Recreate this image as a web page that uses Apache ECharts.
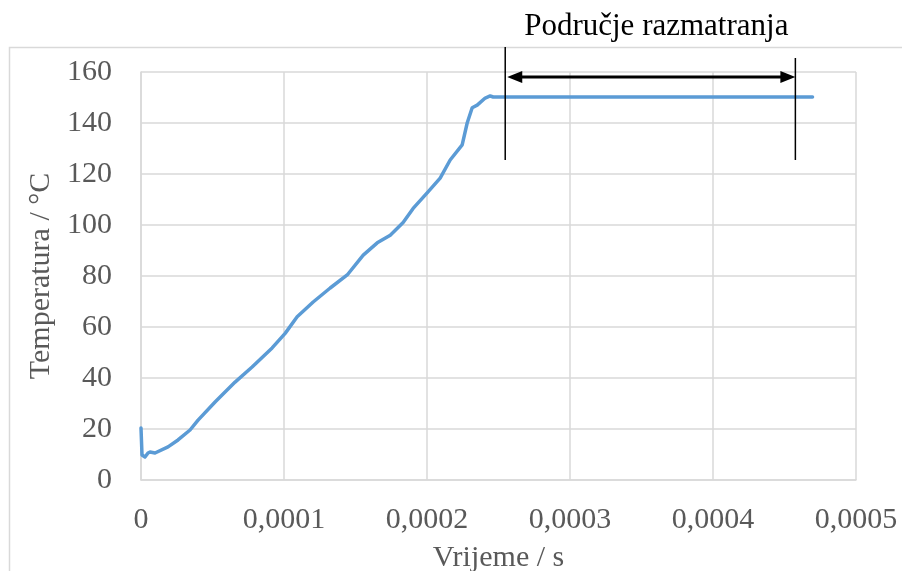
<!DOCTYPE html>
<html>
<head>
<meta charset="utf-8">
<script src="https://cdn.jsdelivr.net/npm/echarts@6/dist/echarts.min.js"></script>
<style>
  html, body { margin: 0; padding: 0; background: #ffffff; }
  #chart { width: 902px; height: 571px; }
</style>
</head>
<body>
<div id="chart"></div>
<script>
// Time samples in seconds
const timeS = [
  0, 0.7e-6, 2.8e-6, 4.9e-6, 6.3e-6, 9.8e-6, 18.9e-6, 25.9e-6, 34.3e-6, 39.9e-6,
  51.8e-6, 65.8e-6, 77.7e-6, 91.7e-6, 100.8e-6, 109.2e-6, 120.4e-6, 132.3e-6,
  144.2e-6, 155.4e-6, 165.2e-6, 174.3e-6, 183.3e-6, 190.3e-6, 200.1e-6,
  209.2e-6, 216.2e-6, 224.6e-6, 228.1e-6, 231.6e-6, 235.1e-6, 240.7e-6,
  244.2e-6, 246.3e-6, 300e-6, 400e-6, 469.6e-6
];
// Temperature in °C at each sample
const tempC = [
  20.4, 9.8, 9.0, 10.6, 11.0, 10.6, 13.0, 15.7, 19.6, 23.5,
  30.6, 38.4, 44.3, 51.8, 57.5, 64.0, 69.8, 75.3,
  80.4, 88.2, 93.0, 96.0, 101.0, 106.5, 112.6,
  118.4, 125.5, 131.4, 140.0, 146.0, 147.0, 149.8,
  150.6, 150.2, 150.2, 150.2, 150.2
];
// Axis ranges
const xMin = 0, xMax = 0.0005, xStep = 0.0001;
const yMin = 0, yMax = 160, yStep = 20;

// Bracket marking the region under consideration
const regionLabel = 'Područje razmatranja';
const regionStart = 254.7e-6, regionEnd = 457.6e-6;

const FONT = "'Liberation Serif', 'Times New Roman', serif";
const chart = echarts.init(document.getElementById('chart'), null, { renderer: 'canvas' });

const fmtX = v => (v === 0 ? '0' : v.toFixed(4).replace('.', ','));

chart.setOption({
  animation: false,
  backgroundColor: '#ffffff',
  grid: { left: 141, right: 46, top: 72, bottom: 91, containLabel: false, outerBoundsMode: 'none' },
  xAxis: {
    type: 'value', min: xMin, max: xMax, interval: xStep,
    name: 'Vrijeme / s', nameLocation: 'middle', nameGap: 63,
    nameTextStyle: { fontFamily: FONT, fontSize: 30, color: '#595959' },
    axisLine: { show: true, lineStyle: { color: '#d9d9d9', width: 1.5 } },
    axisTick: { show: false },
    axisLabel: { formatter: fmtX, fontFamily: FONT, fontSize: 30, color: '#595959', margin: 25 },
    splitLine: { show: true, lineStyle: { color: '#d9d9d9', width: 1.5 } }
  },
  yAxis: {
    type: 'value', min: yMin, max: yMax, interval: yStep,
    name: 'Temperatura / °C', nameLocation: 'middle', nameGap: 80,
    nameTextStyle: { fontFamily: FONT, fontSize: 30, color: '#595959' },
    axisLine: { show: true, lineStyle: { color: '#d9d9d9', width: 1.5 } },
    axisTick: { show: false },
    axisLabel: { fontFamily: FONT, fontSize: 30, color: '#595959', margin: 29 },
    splitLine: { show: true, lineStyle: { color: '#d9d9d9', width: 1.5 } }
  },
  series: [{
    type: 'line',
    data: timeS.map((t, i) => [t, tempC[i]]),
    showSymbol: false,
    lineStyle: { color: '#5b9bd5', width: 3.5, join: 'round', cap: 'round' },
    z: 3
  }]
});

// Annotation bracket placed through the axis scales
const px = (t, T) => chart.convertToPixel({ gridIndex: 0 }, [t, T]);
const L_top = px(regionStart, 169.8), L_bot = px(regionStart, 125.5);
const R_top = px(regionEnd, 165.5), R_bot = px(regionEnd, 125.5);
const aL = px(regionStart, 158), aR = px(regionEnd, 158);
const head = 13, half = 6;

chart.setOption({
  graphic: [
    { type: 'rect', silent: true, z: 0,
      shape: { x: 9.5, y: 47.5, width: 1000, height: 1000 },
      style: { fill: null, stroke: '#d9d9d9', lineWidth: 1.5 } },
    { type: 'text', z: 10, x: (aL[0] + aR[0]) / 2 + 6, y: 27,
      style: { text: regionLabel, font: '31px ' + FONT, fill: '#000000',
               align: 'center', verticalAlign: 'middle',
               backgroundColor: '#ffffff', padding: [0, 6] } },
    { type: 'line', z: 10, shape: { x1: L_top[0], y1: L_top[1], x2: L_bot[0], y2: L_bot[1] },
      style: { stroke: '#000000', lineWidth: 1.5 } },
    { type: 'line', z: 10, shape: { x1: R_top[0], y1: R_top[1], x2: R_bot[0], y2: R_bot[1] },
      style: { stroke: '#000000', lineWidth: 1.5 } },
    { type: 'line', z: 10, shape: { x1: aL[0] + head, y1: aL[1], x2: aR[0] - head, y2: aR[1] },
      style: { stroke: '#000000', lineWidth: 3 } },
    { type: 'polygon', z: 10,
      shape: { points: [[aL[0] + 2, aL[1]], [aL[0] + 2 + head + 2, aL[1] - half], [aL[0] + 2 + head + 2, aL[1] + half]] },
      style: { fill: '#000000' } },
    { type: 'polygon', z: 10,
      shape: { points: [[aR[0], aR[1]], [aR[0] - head - 2, aR[1] - half], [aR[0] - head - 2, aR[1] + half]] },
      style: { fill: '#000000' } }
  ]
});
</script>
</body>
</html>
